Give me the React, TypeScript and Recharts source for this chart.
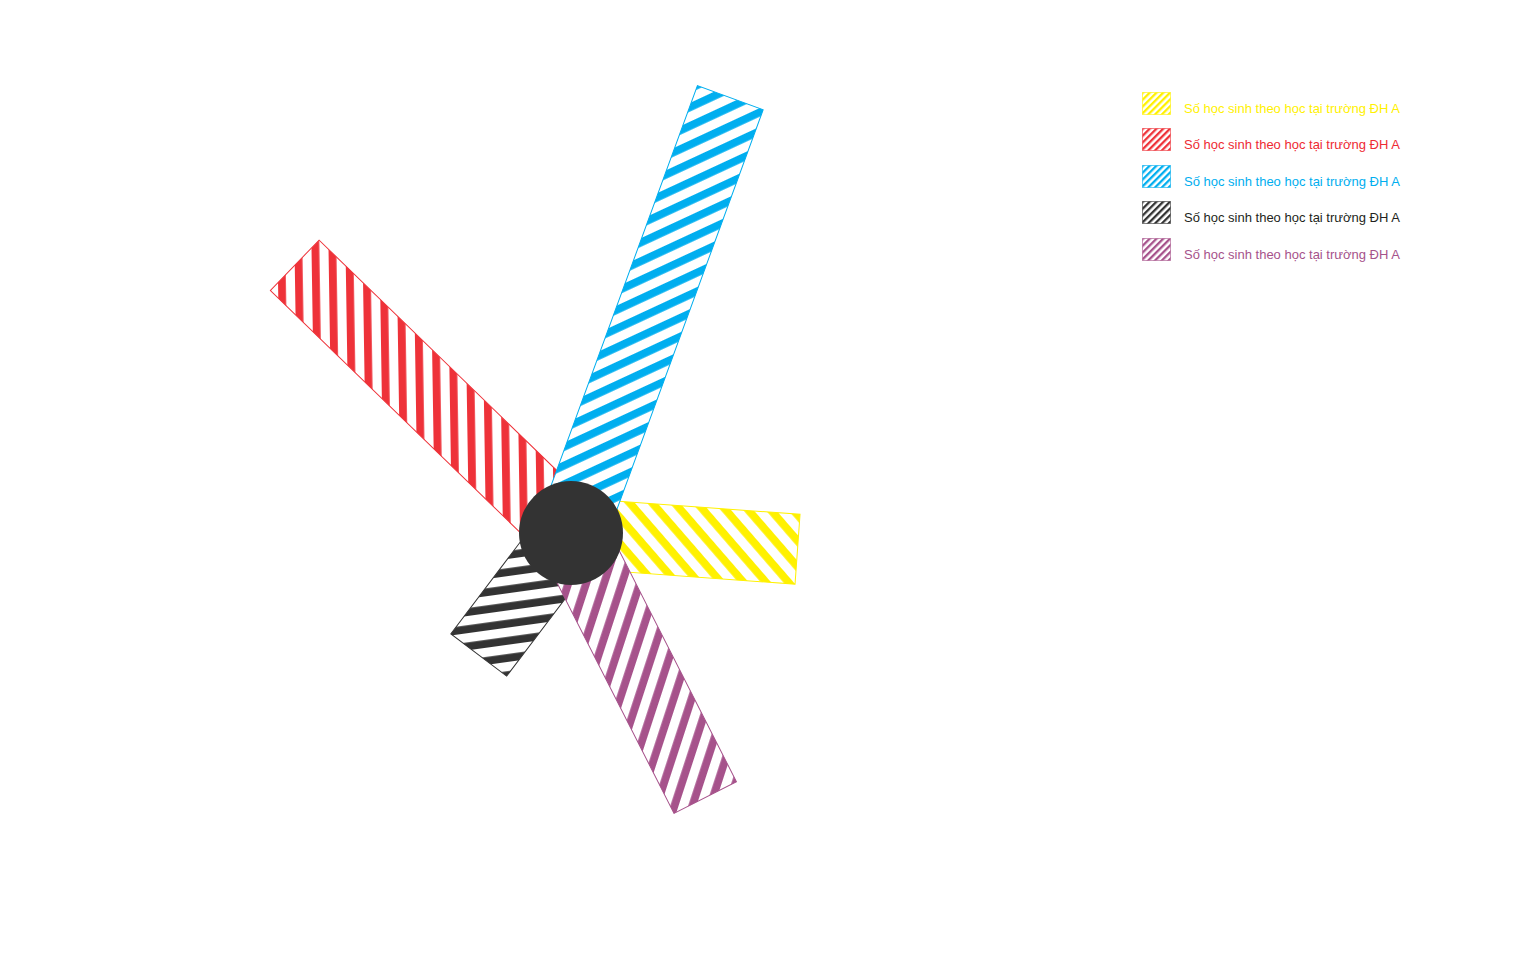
import {
  RadialBarChart,
  RadialBar,
  PolarAngleAxis,
  PolarRadiusAxis,
  Legend,
} from "recharts";

const seriesNames = [
  "Số học sinh theo học tại trường ĐH A",
  "Số học sinh theo học tại trường ĐH A",
  "Số học sinh theo học tại trường ĐH A",
  "Số học sinh theo học tại trường ĐH A",
  "Số học sinh theo học tại trường ĐH A",
];
const studentCounts = [49, 83, 100, 33, 64];
const headings = [94, 314, 20, 217, 153];
const colors = ["#FFF100", "#EE3239", "#00AEEF", "#333333", "#A6528B"];
const textColors = ["#FFF100", "#EE2A33", "#00AEEF", "#231F20", "#A6528B"];

const CX = 571;
const CY = 533;
const BAR_W = 70;
const HUB_R = 52;
const STRIPE_P = 17;
const STRIPE_W = 7.8;

const data = seriesNames.map((name, i) => ({
  key: `s${i}`,
  name,
  value: studentCounts[i],
  heading: headings[i],
  color: colors[i],
}));

const lastKey = data[data.length - 1].key;

// each bar is a rectangle pointing out from the hub along its heading
function BladeShape(props: any) {
  const { cx, cy, innerRadius, outerRadius, startAngle, endAngle, payload } = props;
  const mid = (startAngle + endAngle) / 2;
  const rot = 90 - mid;
  return (
    <g>
      <g transform={`translate(${cx},${cy}) rotate(${rot})`}>
        <rect
          x={-BAR_W / 2}
          y={-outerRadius}
          width={BAR_W}
          height={outerRadius - innerRadius}
          fill={`url(#hatch-${payload.key})`}
          stroke={payload.color}
          strokeWidth={1}
        />
      </g>
      {payload.key === lastKey && <circle cx={cx} cy={cy} r={HUB_R} fill="#333333" />}
    </g>
  );
}

function LegendList() {
  return (
    <div style={{ position: "relative", fontFamily: "'Liberation Sans', Arial, sans-serif" }}>
      {data.map((d, i) => (
        <div key={d.key} style={{ position: "absolute", left: 0, top: i * 36.4, width: 300, height: 30 }}>
          <svg width={31} height={24} style={{ position: "absolute", left: 0, top: 0 }}>
            <defs>
              <pattern
                id={`legend-hatch-${i}`}
                patternUnits="userSpaceOnUse"
                width={4.8}
                height={4.8}
                patternTransform="rotate(45)"
              >
                <rect width={4.8} height={4.8} fill="#fff" />
                <rect width={2.3} height={4.8} fill={colors[i]} />
              </pattern>
            </defs>
            <rect
              x={0.5}
              y={0.5}
              width={28}
              height={22}
              fill={`url(#legend-hatch-${i})`}
              stroke={colors[i]}
              strokeOpacity={0.6}
              strokeWidth={1}
            />
          </svg>
          <span
            style={{
              position: "absolute",
              left: 42,
              top: 9,
              fontSize: 13,
              lineHeight: "15px",
              color: textColors[i],
              whiteSpace: "nowrap",
            }}
          >
            {d.name}
          </span>
        </div>
      ))}
    </div>
  );
}

export default function App() {
  return (
    <div style={{ position: "absolute", left: 0, top: 0, background: "#fff" }}>
      <RadialBarChart
        width={1534}
        height={959}
        data={data}
        layout="centric"
        cx={CX}
        cy={CY}
        innerRadius={0}
        outerRadius={463.5}
        startAngle={90}
        endAngle={-270}
      >
        <defs>
          {data.map((d) => (
            <pattern
              key={d.key}
              id={`hatch-${d.key}`}
              patternUnits="userSpaceOnUse"
              width={STRIPE_P}
              height={STRIPE_P}
              patternTransform="rotate(45)"
            >
              <rect width={STRIPE_P} height={STRIPE_P} fill="#fff" />
              <rect width={STRIPE_W} height={STRIPE_P} fill={d.color} />
            </pattern>
          ))}
        </defs>
        <PolarAngleAxis type="number" dataKey="heading" domain={[0, 360]} tick={false} axisLine={false} />
        <PolarRadiusAxis type="number" domain={[0, 100]} tick={false} axisLine={false} />
        <RadialBar dataKey="value" shape={BladeShape} isAnimationActive={false} />
        <Legend
          content={LegendList}
          wrapperStyle={{ left: 1142, top: 92, width: 300, height: 200 }}
        />
      </RadialBarChart>
    </div>
  );
}
